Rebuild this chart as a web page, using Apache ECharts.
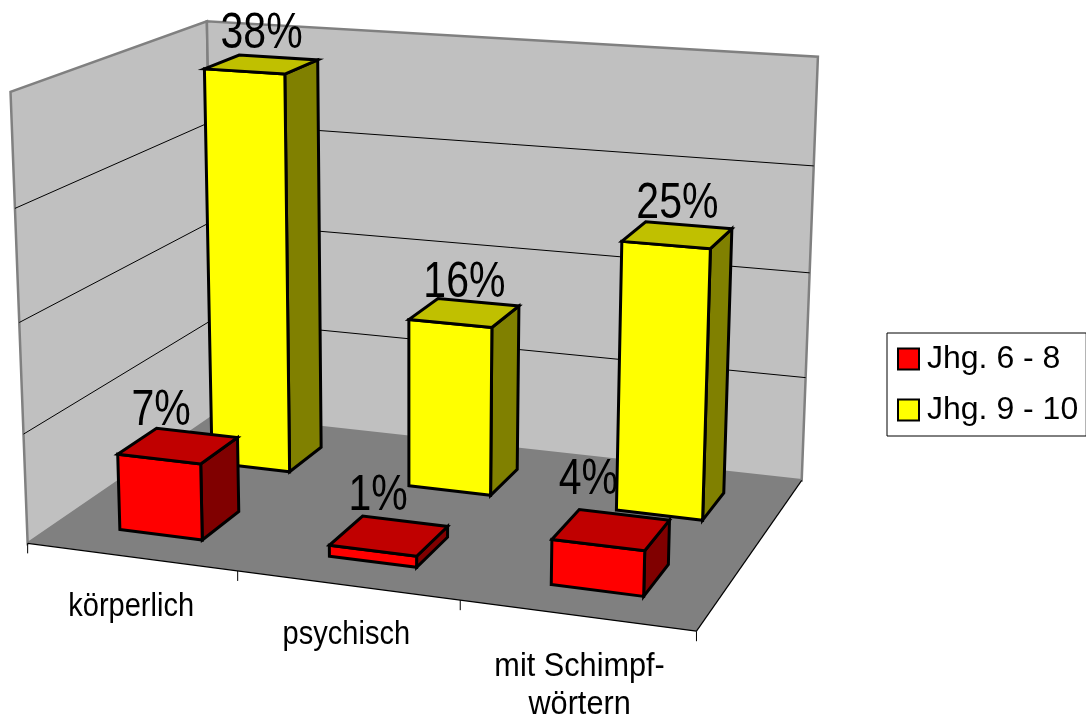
<!DOCTYPE html>
<html><head><meta charset="utf-8">
<style>html,body{margin:0;padding:0;background:#fff}#c{width:1086px;height:720px}</style>
<script src="https://cdn.jsdelivr.net/npm/echarts@6/dist/echarts.min.js"></script>
</head><body><div id="c"></div>
<script>
var categories = ['körperlich', 'psychisch', 'mit Schimpf-\nwörtern'];
var seriesNames = ['Jhg. 6 - 8', 'Jhg. 9 - 10'];
var values68 = [7, 1, 4];
var values910 = [38, 16, 25];
var gridTicks = [10, 20, 30, 40];

var FONT = '"Liberation Sans",Arial,sans-serif';
// Camera of the 3-D box: anchor points (u along categories, v depth, w height) -> screen.
var anchors = [
 [0,0,0,28,543],[1,0,0,696,633],[1,1,0,803,478],[0,1,0,213,417],
 [0,0,1,9,92],[0,1,1,208,21],[1,1,1,819,57],
 [0,0,.25,25,433],[0,0,.75,15,208],[1,1,.25,806,378],[1,1,.5,808,272],[1,1,.75,813,167]
];
function solve(A,b){var n=b.length;for(var i=0;i<n;i++){var m=i;for(var r=i+1;r<n;r++)if(Math.abs(A[r][i])>Math.abs(A[m][i]))m=r;
 var t=A[i];A[i]=A[m];A[m]=t;t=b[i];b[i]=b[m];b[m]=t;
 for(r=i+1;r<n;r++){var f=A[r][i]/A[i][i];for(var k=i;k<n;k++)A[r][k]-=f*A[i][k];b[r]-=f*b[i];}}
 var x=[];for(i=n-1;i>=0;i--){var s=b[i];for(k=i+1;k<n;k++)s-=A[i][k]*x[k];x[i]=s/A[i][i];}return x;}
var cam=(function(){var N=[],B=[],i,j;for(i=0;i<11;i++){N.push(new Array(11).fill(0));B.push(0);}
 anchors.forEach(function(a){var P=[a[0],a[1],a[2],1];
  var r1=P.concat([0,0,0,0,-a[3]*a[0],-a[3]*a[1],-a[3]*a[2]]);
  var r2=[0,0,0,0].concat(P,[-a[4]*a[0],-a[4]*a[1],-a[4]*a[2]]);
  [[r1,a[3]],[r2,a[4]]].forEach(function(e){for(i=0;i<11;i++){B[i]+=e[0][i]*e[1];for(j=0;j<11;j++)N[i][j]+=e[0][i]*e[0][j];}});});
 return solve(N,B);})();
function proj(u,v,w){var d=cam[8]*u+cam[9]*v+cam[10]*w+1;
 return [(cam[0]*u+cam[1]*v+cam[2]*w+cam[3])/d,(cam[4]*u+cam[5]*v+cam[6]*w+cam[7])/d];}

var GRID_W=1000,GRID_H=700; // hidden cartesian grid, normalises data values
function wOf(api,val){return (GRID_H-api.coord([0,val])[1])/GRID_H;}
function poly(pts,fill,stroke,lw){return {type:'polygon',shape:{points:pts},style:{fill:fill,stroke:stroke||null,lineWidth:lw||0,lineJoin:'miter'}};}
function line(a,b,color,lw){return {type:'line',shape:{x1:a[0],y1:a[1],x2:b[0],y2:b[1]},style:{stroke:color,lineWidth:lw}};}
function txt(s,x,y,size,sx,va){return {type:'text',x:x,y:y,scaleX:sx,style:{text:s,fontFamily:FONT,fontSize:size,fill:'#000',align:'center',verticalAlign:va||'middle',lineHeight:Math.round(size*1.15)}};}

function renderFrame(params,api){
 if(params.dataIndex!==0)return {type:'group',children:[]};
 var ch=[],GR='#808080';
 var a=proj(0,0,0),b=proj(1,0,0),c=proj(1,1,0),d=proj(0,1,0),e=proj(0,0,1),f=proj(0,1,1),g=proj(1,1,1);
 ch.push(poly([a,e,f,d],'#C0C0C0',GR,2.5));
 ch.push(poly([d,f,g,c],'#C0C0C0',GR,2.5));
 ch.push(poly([a,b,c,d],'#808080'));
 gridTicks.forEach(function(t){var w=wOf(api,t);if(w>=1)return;
  ch.push(line(proj(0,0,w),proj(0,1,w),'#000',1));
  ch.push(line(proj(0,1,w),proj(1,1,w),'#000',1));});
 ch.push(line(a,b,'#000',1.2));ch.push(line(b,c,'#000',1.2));
 for(var i=0;i<=categories.length;i++){var p=proj(i/categories.length,0,0);
  ch.push(line(p,[p[0],p[1]+10],'#000',1));}
 return {type:'group',children:ch};
}
var catLabelNudge=[0,-1,3];
function renderCatLabels(params,api){
 var i=params.dataIndex,p=proj((i+.5)/categories.length,0,0);
 return txt(categories[i],p[0]+catLabelNudge[i],p[1]+(i===2?32:31),33,i===2?.93:.88,'top');
}
var BAR_U=.4; // bar width as share of category band
function barRenderer(vRange,colors,labelNudge){
 return function(params,api){
  var i=api.value(0),val=api.value(1),n=categories.length;
  var u0=(i+.5-BAR_U/2)/n,u1=(i+.5+BAR_U/2)/n,v0=vRange[0],v1=vRange[1],w=wOf(api,val);
  var A=proj(u0,v0,0),B=proj(u1,v0,0),C=proj(u1,v1,0),
      D=proj(u0,v0,w),E=proj(u1,v0,w),F=proj(u1,v1,w),G=proj(u0,v1,w);
  var tc=proj((u0+u1)/2,(v0+v1)/2,w);
  return {type:'group',children:[
   poly([B,C,F,E],colors[2],'#000',3),
   poly([A,B,E,D],colors[0],'#000',3),
   poly([D,E,F,G],colors[1],'#000',3),
   txt(val+'%',tc[0]+labelNudge[i][0],tc[1]-35+labelNudge[i][1],50,.82)
  ]};
 };
}
var common={type:'custom',coordinateSystem:'cartesian2d',clip:false};
var option={
 animation:false,backgroundColor:'#fff',
 grid:{left:0,top:0,width:GRID_W,height:GRID_H,show:false,outerBoundsMode:'none'},
 xAxis:{type:'category',data:categories,show:false},
 yAxis:{type:'value',min:0,max:40,interval:10,show:false},
 legend:{show:true,orient:'vertical',left:887,top:333,padding:[10,8,10,10],itemGap:19,itemWidth:21,itemHeight:21,icon:'rect',
  backgroundColor:'#fff',borderColor:'#000',borderWidth:1,
  data:seriesNames,textStyle:{fontFamily:FONT,fontSize:32,color:'#000',padding:[0,0,0,3]}},
 series:[
  Object.assign({},common,{name:'frame',silent:true,z:1,data:[[0,0]],renderItem:renderFrame,encode:{x:0,y:1}}),
  Object.assign({},common,{name:seriesNames[1],z:2,itemStyle:{color:'#FFFF00',borderColor:'#000',borderWidth:2.5},
   data:values910.map(function(v,i){return [i,v];}),encode:{x:0,y:1},
   renderItem:barRenderer([.65,.85],['#FFFF00','#C0C000','#808000'],[[0,5],[0,5],[0,4]])}),
  Object.assign({},common,{name:seriesNames[0],z:3,itemStyle:{color:'#FF0000',borderColor:'#000',borderWidth:2.5},
   data:values68.map(function(v,i){return [i,v];}),encode:{x:0,y:1},
   renderItem:barRenderer([.15,.35],['#FF0000','#C00000','#800000'],[[-17,0],[-11,-5],[-23,-14]])}),
  Object.assign({},common,{name:'labels',silent:true,z:4,data:categories.map(function(c,i){return [i,0];}),encode:{x:0,y:1},renderItem:renderCatLabels})
 ]
};
echarts.init(document.getElementById('c'),null,{renderer:'canvas'}).setOption(option);
</script></body></html>
